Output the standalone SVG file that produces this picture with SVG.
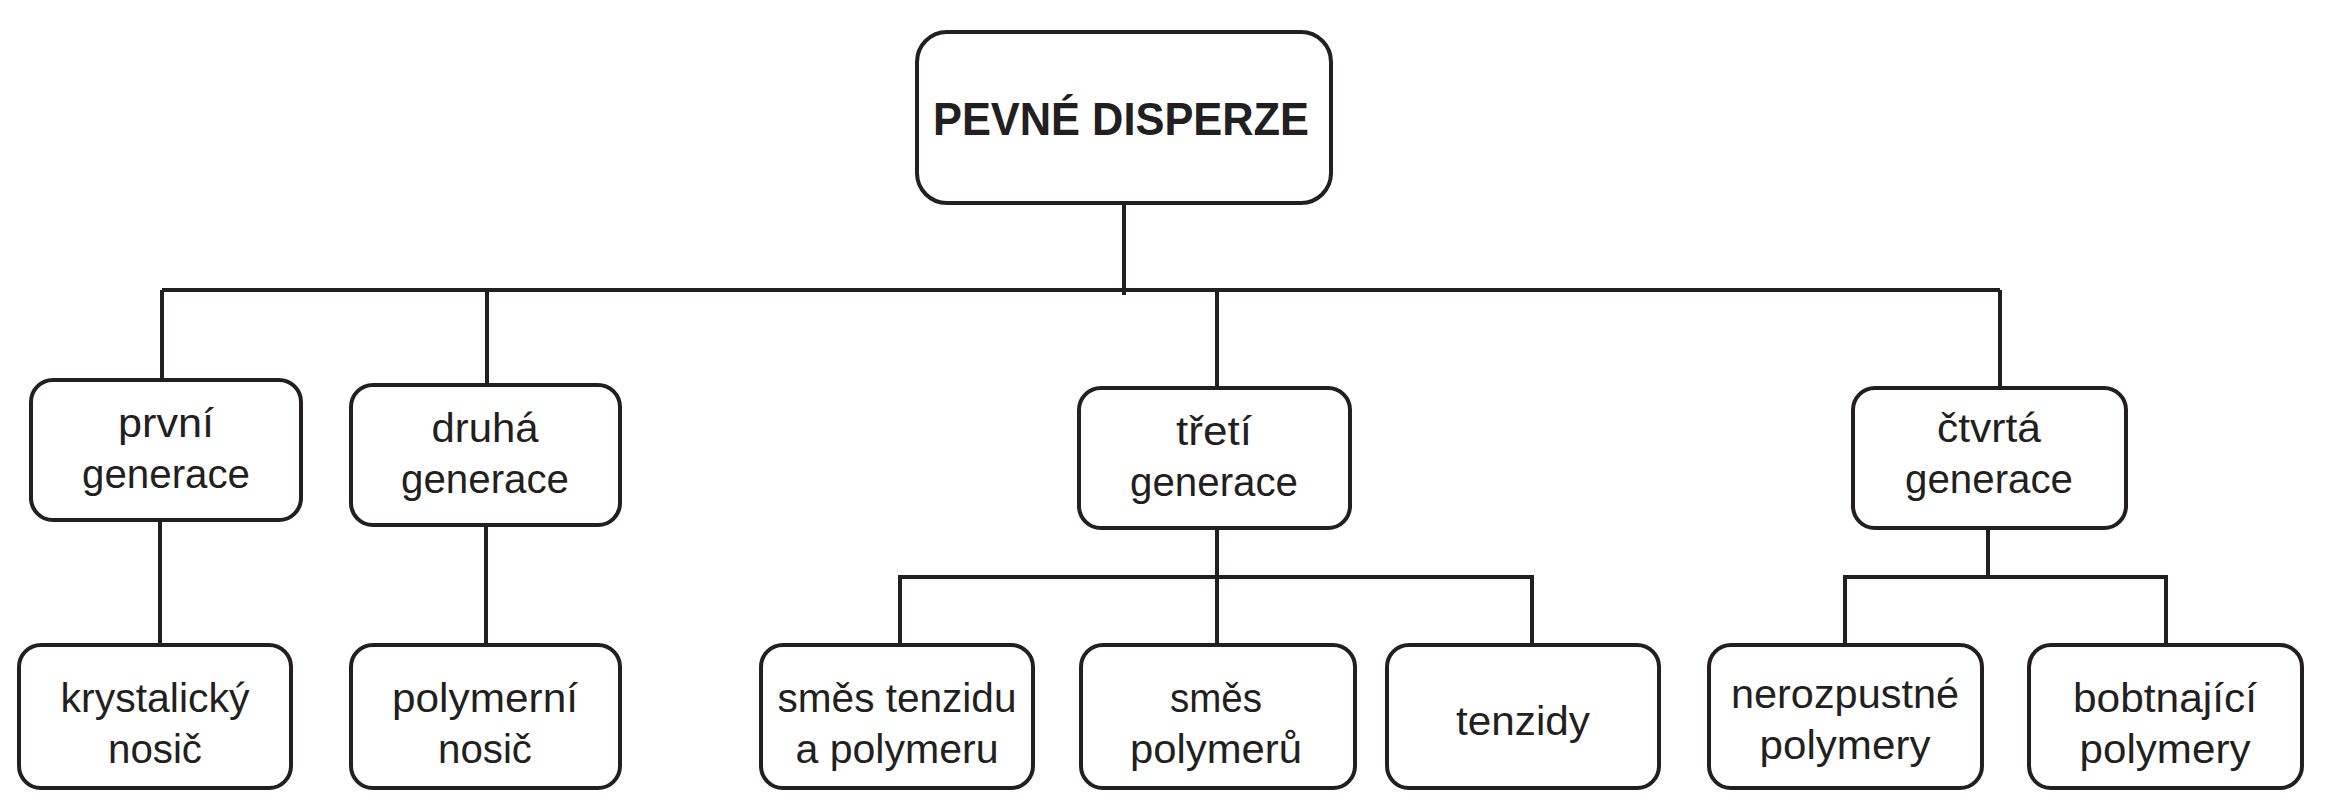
<svg xmlns="http://www.w3.org/2000/svg" width="2327" height="800" viewBox="0 0 2327 800">
<style>
.b{fill:#fff;stroke:#231f20;stroke-width:4}
.t{font-family:"Liberation Sans",Arial,sans-serif;font-size:40px;fill:#231f20;text-anchor:middle}
.h{font-weight:bold;font-size:46px}
.c{fill:none;stroke:#231f20;stroke-width:4}
</style>
<rect width="2327" height="800" fill="#fff"/>
<g id="connectors">
<path class="c" d="M1124 203V295M162 290H2000M162 290V380M487 290V385M1217 290V388M2000 290V388"/>
<path class="c" d="M160 520V645M486 525V645M1217 528V645M900 645V577H1532V645M1988 528V577M1845 645V577H2166V645"/>
</g>
<g id="root"><rect class="b" x="917" y="32" width="414" height="171" rx="30"/><text class="t h" x="1121" y="135" textLength="376" lengthAdjust="spacingAndGlyphs">PEVNÉ DISPERZE</text></g>
<g id="n1"><rect class="b" x="31" y="380" width="270" height="140" rx="22"/><text class="t" x="166" y="437" textLength="96" lengthAdjust="spacingAndGlyphs">první</text><text class="t" x="166" y="488" textLength="168" lengthAdjust="spacingAndGlyphs">generace</text></g>
<g id="n2"><rect class="b" x="351" y="385" width="269" height="140" rx="22"/><text class="t" x="485" y="442" textLength="107" lengthAdjust="spacingAndGlyphs">druhá</text><text class="t" x="485" y="493" textLength="168" lengthAdjust="spacingAndGlyphs">generace</text></g>
<g id="n3"><rect class="b" x="1079" y="388" width="271" height="140" rx="22"/><text class="t" x="1214" y="445" textLength="76" lengthAdjust="spacingAndGlyphs">třetí</text><text class="t" x="1214" y="496" textLength="168" lengthAdjust="spacingAndGlyphs">generace</text></g>
<g id="n4"><rect class="b" x="1853" y="388" width="273" height="140" rx="22"/><text class="t" x="1989" y="442" textLength="104" lengthAdjust="spacingAndGlyphs">čtvrtá</text><text class="t" x="1989" y="493" textLength="168" lengthAdjust="spacingAndGlyphs">generace</text></g>
<g id="n5"><rect class="b" x="19" y="645" width="272" height="143" rx="22"/><text class="t" x="155" y="712" textLength="189" lengthAdjust="spacingAndGlyphs">krystalický</text><text class="t" x="155" y="763" textLength="94" lengthAdjust="spacingAndGlyphs">nosič</text></g>
<g id="n6"><rect class="b" x="351" y="645" width="269" height="143" rx="22"/><text class="t" x="485" y="712" textLength="186" lengthAdjust="spacingAndGlyphs">polymerní</text><text class="t" x="485" y="763" textLength="94" lengthAdjust="spacingAndGlyphs">nosič</text></g>
<g id="n7"><rect class="b" x="761" y="645" width="272" height="143" rx="22"/><text class="t" x="897" y="712" textLength="239" lengthAdjust="spacingAndGlyphs">směs tenzidu</text><text class="t" x="897" y="763" textLength="203" lengthAdjust="spacingAndGlyphs">a polymeru</text></g>
<g id="n8"><rect class="b" x="1081" y="645" width="274" height="143" rx="22"/><text class="t" x="1216" y="712" textLength="92" lengthAdjust="spacingAndGlyphs">směs</text><text class="t" x="1216" y="763" textLength="172" lengthAdjust="spacingAndGlyphs">polymerů</text></g>
<g id="n9"><rect class="b" x="1387" y="645" width="272" height="143" rx="22"/><text class="t" x="1523" y="735" textLength="134" lengthAdjust="spacingAndGlyphs">tenzidy</text></g>
<g id="n10"><rect class="b" x="1709" y="645" width="273" height="143" rx="22"/><text class="t" x="1845" y="708" textLength="228" lengthAdjust="spacingAndGlyphs">nerozpustné</text><text class="t" x="1845" y="759" textLength="171" lengthAdjust="spacingAndGlyphs">polymery</text></g>
<g id="n11"><rect class="b" x="2029" y="645" width="273" height="143" rx="22"/><text class="t" x="2165" y="712" textLength="184" lengthAdjust="spacingAndGlyphs">bobtnající</text><text class="t" x="2165" y="763" textLength="171" lengthAdjust="spacingAndGlyphs">polymery</text></g>
</svg>
